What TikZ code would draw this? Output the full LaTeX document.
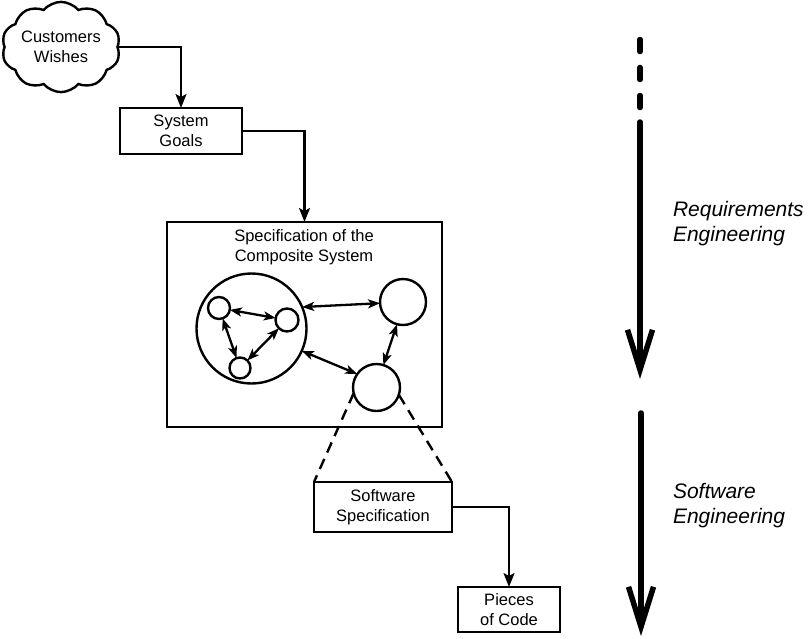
\documentclass[tikz,border=0pt]{standalone}
\usepackage{fontspec}
\setmainfont{Liberation Sans}
\usetikzlibrary{arrows.meta,shapes.symbols}
\begin{document}
\begin{tikzpicture}[x=1pt,y=-1pt,
  every node/.style={inner sep=0pt, outer sep=0pt},
  boxtext/.style={font=\fontsize{16.5}{19.5}\selectfont, align=center},
  bluebox/.style={draw, line width=2.4pt, rectangle, boxtext},
  ring/.style={draw, line width=2.4pt, circle},
  conn/.style={line width=2.3pt, -{Stealth[length=14pt,width=11pt,inset=3pt]}},
  dbl/.style={line width=2.3pt, {Stealth[length=12pt,width=9pt,inset=3pt]}-{Stealth[length=12pt,width=9pt,inset=3pt]}},
  cone/.style={line width=2.4pt, dash pattern=on 11pt off 7pt},
  phase/.style={line width=5.5pt, line cap=round, -{Straight Barb[length=40pt,width=25pt,line width=5.5pt]}},
  phaselabel/.style={anchor=west, align=left, font=\fontsize{21}{25}\selectfont\itshape}]
\useasboundingbox (0,0) rectangle (810,638);

% requirement sources
\node[cloud, draw, line width=2.4pt, cloud puffs=10, cloud puff arc=100, aspect=1.45,
      minimum width=112pt, minimum height=76pt, boxtext] (wishes) at (61,47) {Customers\\Wishes};
\node[bluebox, minimum width=122pt, minimum height=46pt] (goals) at (181,131) {System\\Goals};

% composite system
\node[bluebox, minimum width=275pt, minimum height=205pt] (comp) at (304.5,324.5) {};
\node[boxtext] (comptitle) at (304,247) {Specification of the\\Composite System};
\node[ring, minimum size=110pt] (env) at (251.5,328.5) {};
\node[ring, minimum size=22pt] (ca) at (219,308) {};
\node[ring, minimum size=23pt] (cb) at (287,320) {};
\node[ring, minimum size=21pt] (cc) at (240,368) {};
\node[ring, minimum size=46pt] (cd) at (403,302) {};
\node[ring, minimum size=47pt] (ce) at (376.5,387.5) {};

% software part
\node[bluebox, minimum width=138pt, minimum height=50pt] (soft) at (383,507) {Software\\Specification};
\node[bluebox, minimum width=102pt, minimum height=45pt] (code) at (509,609.5) {Pieces\\of Code};

% flow between stages
\draw[conn] (wishes.east) -| (goals.north);
\draw[conn] (goals.east) -| (comp.north);
\draw[conn] (soft.east) -| (code.north);

% interactions inside the composite system
\draw[dbl] (ca) -- (cb);
\draw[dbl] (ca) -- (cc);
\draw[dbl] (cb) -- (cc);
\draw[dbl] (env.23) -- (cd.183);
\draw[dbl] (env.-24) -- (ce.145);
\draw[dbl] (cd.-105) -- (ce.73);

% refinement of one component
\draw[cone] (ce.194) -- (soft.north west);
\draw[cone] (ce.-18) -- (soft.north east);

% phases
\coordinate (reqdash) at (640,39.5);
\coordinate (reqstart) at (640,122);
\coordinate (reqend) at (640,379);
\coordinate (swstart) at (641,413);
\coordinate (swend) at (641,636);
\draw[line width=5.5pt, line cap=round, dash pattern=on 12pt off 16pt] (reqdash) -- (640,110);
\draw[phase] (reqstart) -- (reqend);
\draw[phase] (swstart) -- (swend);
\node[phaselabel] (reqlabel) at (673,224) {Requirements\\Engineering};
\node[phaselabel] (swlabel) at (673,506) {Software\\Engineering};
\end{tikzpicture}
\end{document}
